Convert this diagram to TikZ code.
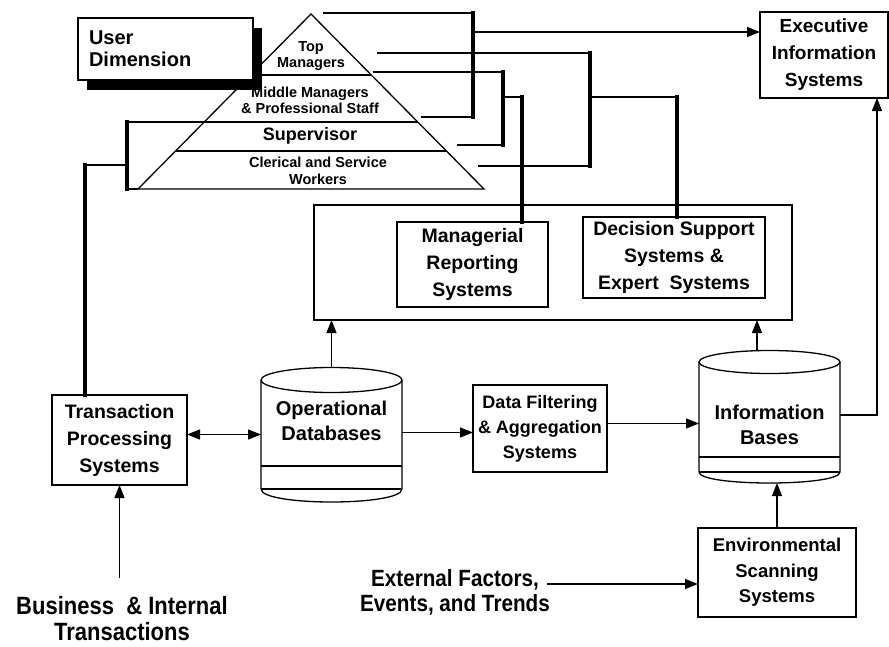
\documentclass[tikz,border=0pt]{standalone}
\usepackage{fontspec}
\setmainfont{Liberation Sans}
\newfontfamily\narrowsans[FakeStretch=0.88]{Liberation Sans}
\usetikzlibrary{arrows.meta,calc,shadows}

% database drum: left x, right x, top ellipse centre y, top y-radius,
% bottom rim y, bottom y-radius, upper edge of the base band
\newcommand\drumshape[7]{%
  \draw[outline] ({(#1+#2)/2},#3) ellipse [x radius={(#2-#1)/2}, y radius=#4];
  \draw[outline] (#1,#3) -- (#1,#5)
     .. controls (#1,{#5+1.333*#6}) and (#2,{#5+1.333*#6}) .. (#2,#5) -- (#2,#3);
  \draw[outline] (#1,#7) -- (#2,#7);
  \draw[outline] (#1,#5) -- (#2,#5);
}

\begin{document}
\begin{tikzpicture}[x=1pt,y=-1pt,
  every node/.style={inner sep=0pt, outer sep=0pt},
  boxtext/.style={font=\fontsize{19.5}{27}\selectfont\bfseries, align=center},
  box/.style={boxtext, draw, line width=1.3pt, fill=white},
  tier/.style={font=\fontsize{14.5}{16.5}\selectfont\bfseries, align=center},
  link/.style={line width=1.6pt},
  riser/.style={line width=3.4pt, line cap=rect},
  outline/.style={line width=1.3pt},
  arr/.style={line width=1.3pt, -{Triangle[length=13pt,width=10pt]}},
  darr/.style={line width=1.3pt, {Triangle[length=13pt,width=10pt]}-{Triangle[length=13pt,width=10pt]}},
  hidden/.style={draw=none, inner sep=0pt},
  capt/.style={font=\narrowsans\fontsize{24}{26}\selectfont\bfseries, align=center},
]
\useasboundingbox (0,0) rectangle (889,646);

% ---------- user pyramid ----------
\draw[outline, line join=miter] (311,14) -- (138,189) -- (484,189) -- cycle;
\draw[outline] (250.7,75) -- (371.3,75);
\draw[outline] (175.6,151) -- (446.4,151);
% bracket joining the two lower tiers to transaction processing
\draw[link] (127,122) -- (417.8,122);
\draw[link] (127,189) -- (138,189);
\draw[riser] (127,122) -- (127,189);

\node[tier] (topm) at (311,56) {Top\\Managers};
\node[tier, font=\fontsize{14.5}{16}\selectfont\bfseries] (midm) at (310,100) {Middle Managers\\\& Professional Staff};
\node[tier, font=\fontsize{18}{20}\selectfont\bfseries] (supv) at (310,136) {Supervisor};
\node[tier] (cler) at (318,171) {Clerical and Service\\Workers};

\node[draw, line width=1.3pt, fill=white, minimum width=175pt, minimum height=62pt,
      text width=153pt, align=left, font=\fontsize{20}{22}\selectfont\bfseries,
      drop shadow={shadow xshift=9pt, shadow yshift=-10pt, fill=black, opacity=1}]
      (user) at (165.5,49) {User\\Dimension};

% ---------- boxes ----------
\node[draw, outline, minimum width=478pt, minimum height=115pt] (sys) at (553,262.5) {};
\node[box, minimum width=151pt, minimum height=85pt] (mrs) at (472.5,264.5) {Managerial\\Reporting\\Systems};
\node[box, minimum width=182pt, minimum height=81pt] (dss) at (674,257.5) {Decision Support\\Systems \&\\Expert\ \ Systems};
\node[box, minimum width=128pt, minimum height=86pt, font=\fontsize{19}{27}\selectfont\bfseries] (eis) at (824,55) {Executive\\Information\\Systems};
\node[box, minimum width=135pt, minimum height=90pt] (tps) at (119.5,440) {Transaction\\Processing\\Systems};
\node[box, minimum width=134pt, minimum height=87pt, font=\fontsize{18}{25}\selectfont\bfseries] (df) at (540,428.5) {Data Filtering\\\& Aggregation\\Systems};
\node[box, minimum width=158pt, minimum height=89pt, font=\fontsize{18.5}{25.5}\selectfont\bfseries] (env) at (777,572.5) {Environmental\\Scanning\\Systems};

% ---------- databases ----------
\drumshape{261}{402}{380}{12.5}{489}{13}{466}
\drumshape{699}{840}{362}{11.5}{472}{11}{457}
\node[hidden, minimum width=141pt, minimum height=133pt] (opdb) at (331.5,434.5) {};
\node[hidden, minimum width=141pt, minimum height=133pt] (ib) at (769.5,416.5) {};
\node[boxtext, font=\fontsize{20}{25}\selectfont\bfseries] (opdbtext) at (331.5,421) {Operational\\Databases};
\node[boxtext, font=\fontsize{20}{25}\selectfont\bfseries] (ibtext) at (769.5,425) {Information\\Bases};

% ---------- free labels ----------
\node[capt, font=\narrowsans\fontsize{25}{26}\selectfont\bfseries] (bit) at (122,619) {Business\ \ \& Internal\\Transactions};
\node[capt, font=\narrowsans\fontsize{23.5}{25}\selectfont\bfseries] (ext) at (455,592) {External Factors,\\Events, and Trends};

% ---------- brackets from the pyramid ----------
% to executive information systems
\draw[link] (323,13) -- (473,13);
\draw[link] (421,117) -- (473,117);
\draw[riser] (473,13) -- (473,117);
\coordinate (abr) at (473,32);
\draw[arr, line width=1.6pt] (abr) -- (abr -| eis.west);
% to decision support
\draw[link] (377,53) -- (590,53);
\draw[link] (478,166) -- (590,166);
\draw[riser] (590,53) -- (590,166);
\coordinate (bdrop) at (677,97);
\draw[link] (590,97) -- (bdrop);
\draw[riser] (bdrop) -- (bdrop |- dss.north);
% to managerial reporting
\draw[link] (373,72) -- (503,72);
\draw[link] (457,145) -- (503,145);
\draw[riser] (503,72) -- (503,145);
\coordinate (cdrop) at (522,97);
\draw[link] (503,97) -- (cdrop);
\draw[riser] (cdrop) -- (cdrop |- mrs.north);
% to transaction processing
\coordinate (tpsup) at (85,165);
\draw[link] (tpsup) -- (127,165);
\draw[riser] (tpsup |- tps.north) -- (tpsup);

% ---------- data flow ----------
\draw[darr] (tps.east |- opdb.west) -- (opdb.west);
\draw[arr] ($(opdb.east)+(0,-2)$) -- ($(opdb.east -| df.west)+(0,-2)$);
\draw[arr] ($(df.east)+(0,-5)$) -- ($(df.east -| ib.west)+(0,-5)$);
\draw[arr] (opdb.north) -- (opdb.north |- sys.south);
\coordinate (ibtop) at (757,351);
\draw[arr] (ibtop) -- (ibtop |- sys.south);
\coordinate (ibright) at (877,415);
\draw[arr] (ib.east |- ibright) -- (ibright) -- (ibright |- eis.south);
\draw[arr] (env.north) -- (env.north |- ib.south);
\coordinate (bitail) at (119.5,578);
\draw[arr] (bitail) -- (tps.south);
\coordinate (extail) at (547,584);
\draw[arr] (extail) -- (extail -| env.west);
\end{tikzpicture}
\end{document}
